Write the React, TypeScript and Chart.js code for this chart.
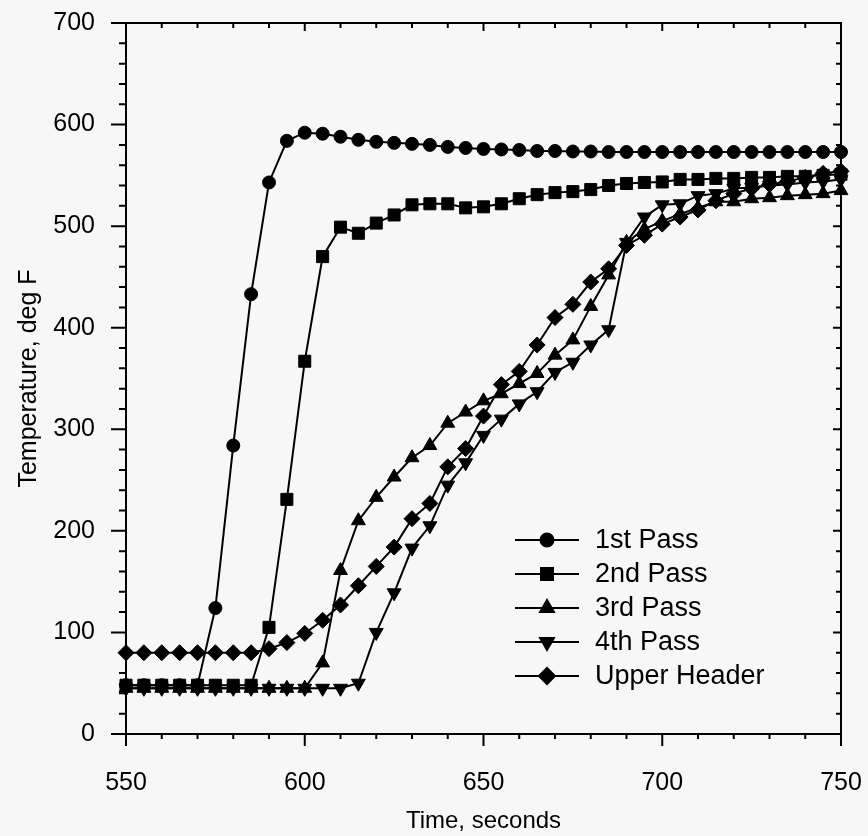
import React, { useEffect, useRef } from 'react';
import { Chart, registerables } from 'chart.js';
import { drawPoint } from 'chart.js/helpers';

Chart.register(...registerables);

const times = [
  550, 555, 560, 565, 570, 575, 580, 585, 590, 595,
  600, 605, 610, 615, 620, 625, 630, 635, 640, 645,
  650, 655, 660, 665, 670, 675, 680, 685, 690, 695,
  700, 705, 710, 715, 720, 725, 730, 735, 740, 745, 750,
];

const pass1 = [
  48, 48, 48, 48, 48, 124, 284, 433, 543, 584,
  592, 591, 588, 585, 583, 582, 581, 580, 578, 577,
  576, 575.5, 575, 574, 574, 573.5, 573.5, 573, 573, 573,
  573, 573, 573, 573, 573, 573, 573, 573, 573, 573, 573,
];

const pass2 = [
  48, 48, 48, 48, 48, 48, 48, 48, 105, 231,
  367, 470, 499, 493, 503, 511, 521, 522, 522, 518,
  519, 522, 527, 531, 533, 534, 536, 540, 542, 543,
  543.5, 546, 546, 547, 547, 548, 548, 549, 549, 550, 551,
];

const pass3 = [
  45, 45, 45, 45, 45, 45, 45, 45, 45, 45,
  45, 70, 161, 210, 233, 253, 272, 284, 306, 317,
  328, 335, 345, 355, 373, 388, 421, 452, 484, 497,
  505, 512, 518, 524, 524, 527, 528, 530, 531, 532, 535,
];

const pass4 = [
  45, 45, 45, 45, 45, 45, 45, 45, 45, 45,
  45, 45, 45, 50, 100, 139, 183, 205, 245, 267,
  294, 310, 325, 337, 356, 366, 383, 398, 484, 509,
  521, 522, 530, 532, 537, 538, 540, 541, 543, 544, 546,
];

const upperHeader = [
  80, 80, 80, 80, 80, 80, 80, 80, 84, 90,
  99, 112, 127, 146, 165, 184, 212, 227, 263, 281,
  313, 344, 357, 383, 410, 423, 445, 458, 481, 491,
  502, 509, 516, 525, 532, 537, 541, 544, 548, 552, 554,
];

const seriesNames = ['1st Pass', '2nd Pass', '3rd Pass', '4th Pass', 'Upper Header'];
const seriesValues = [pass1, pass2, pass3, pass4, upperHeader];

const xTickLabels = [550, 600, 650, 700, 750];
const yTickLabels = [0, 100, 200, 300, 400, 500, 600, 700];

const FONT = "'Liberation Sans', Arial, Helvetica, sans-serif";

const markerStyles = [
  { pointStyle: 'circle', pointRadius: 6.5, rotation: 0 },
  { pointStyle: 'rect', pointRadius: 8.5, rotation: 0 },
  { pointStyle: 'triangle', pointRadius: 8, rotation: 0 },
  { pointStyle: 'triangle', pointRadius: 8, rotation: 180 },
  { pointStyle: 'rectRot', pointRadius: 8, rotation: 0 },
];

const backgroundPlugin = {
  id: 'bgFill',
  beforeDraw(chart: any) {
    const { ctx, width, height } = chart;
    ctx.save();
    ctx.fillStyle = '#f7f7f7';
    ctx.fillRect(0, 0, width, height);
    ctx.restore();
  },
};

const frameTicksPlugin = {
  id: 'frameTicks',
  afterDraw(chart: any) {
    const { ctx, chartArea } = chart;
    const { left, right, top, bottom } = chartArea;
    const xs = chart.scales.x;
    const ys = chart.scales.y;
    ctx.save();
    ctx.strokeStyle = '#000';
    ctx.lineWidth = 2;
    ctx.strokeRect(left, top, right - left, bottom - top);
    ctx.beginPath();
    for (let v = xs.min; v <= xs.max; v += 10) {
      const px = xs.getPixelForValue(v);
      const major = v % 50 === 0;
      ctx.moveTo(px, bottom);
      ctx.lineTo(px, bottom + (major ? 12 : 5));
      ctx.moveTo(px, top);
      ctx.lineTo(px, top + (major ? 8 : 5));
    }
    for (let v = ys.min; v <= ys.max; v += 20) {
      const py = ys.getPixelForValue(v);
      const major = v % 100 === 0;
      ctx.moveTo(left, py);
      ctx.lineTo(left - (major ? 15 : 7), py);
      ctx.moveTo(right, py);
      ctx.lineTo(right - (major ? 8 : 5), py);
    }
    ctx.stroke();
    ctx.restore();
  },
};

const legendPlugin = {
  id: 'lineLegend',
  afterDraw(chart: any, _args: any, opts: any) {
    const { ctx } = chart;
    ctx.save();
    chart.data.datasets.forEach((ds: any, i: number) => {
      const y = opts.y0 + i * opts.rowGap;
      ctx.strokeStyle = '#000';
      ctx.lineWidth = 2;
      ctx.beginPath();
      ctx.moveTo(opts.lineX0, y);
      ctx.lineTo(opts.lineX1, y);
      ctx.stroke();
      ctx.fillStyle = '#000';
      drawPoint(ctx, {
        pointStyle: ds.pointStyle,
        radius: ds.pointRadius,
        rotation: ds.pointRotation || 0,
        borderWidth: 1,
      }, (opts.lineX0 + opts.lineX1) / 2, y);
      ctx.fillStyle = '#000';
      ctx.font = `${opts.fontSize}px ${FONT}`;
      ctx.textAlign = 'left';
      ctx.textBaseline = 'middle';
      ctx.fillText(ds.label, opts.textX, y + 1);
    });
    ctx.restore();
  },
};

export default function App() {
  const canvasRef = useRef<HTMLCanvasElement | null>(null);

  useEffect(() => {
    const canvas = canvasRef.current;
    if (!canvas) return;

    const datasets = seriesNames.map((name, i) => ({
      label: name,
      data: times.map((t, j) => ({ x: t, y: seriesValues[i][j] })),
      borderColor: '#000',
      backgroundColor: '#000',
      borderWidth: 2,
      pointStyle: markerStyles[i].pointStyle,
      pointRadius: markerStyles[i].pointRadius,
      pointRotation: markerStyles[i].rotation,
      pointBackgroundColor: '#000',
      pointBorderColor: '#000',
      pointBorderWidth: 1,
      tension: 0,
      fill: false,
      clip: false,
    }));

    const chart = new Chart(canvas, {
      type: 'line',
      data: { datasets },
      options: {
        responsive: false,
        animation: false,
        events: [],
        layout: { padding: { left: 0, right: 27, top: 23, bottom: 0 } },
        plugins: {
          legend: { display: false },
          tooltip: { enabled: false },
          lineLegend: {
            lineX0: 515,
            lineX1: 579,
            textX: 595,
            y0: 540,
            rowGap: 34,
            fontSize: 27,
          },
        } as any,
        scales: {
          x: {
            type: 'linear',
            min: 550,
            max: 750,
            afterFit: (s: any) => {
              s.height = 102;
              s.paddingLeft = 0;
              s.paddingRight = 0;
            },
            afterBuildTicks: (s: any) => { s.ticks = xTickLabels.map((v) => ({ value: v })); },
            grid: { display: false, drawTicks: false },
            border: { display: false },
            ticks: {
              color: '#000',
              font: { family: FONT, size: 25 },
              padding: 34,
              maxRotation: 0,
            },
            title: {
              display: true,
              text: 'Time, seconds',
              color: '#000',
              font: { family: FONT, size: 24 },
              padding: { top: 0, bottom: 0 },
            },
          },
          y: {
            type: 'linear',
            min: 0,
            max: 700,
            afterFit: (s: any) => {
              s.width = 126;
              s.paddingTop = 0;
              s.paddingBottom = 0;
            },
            afterBuildTicks: (s: any) => { s.ticks = yTickLabels.map((v) => ({ value: v })); },
            grid: { display: false, drawTicks: false },
            border: { display: false },
            ticks: {
              color: '#000',
              font: { family: FONT, size: 25 },
              padding: 31,
            },
            title: {
              display: true,
              text: 'Temperature, deg F',
              color: '#000',
              font: { family: FONT, size: 25 },
              padding: { top: 14, bottom: 0 },
            },
          },
        },
      },
      plugins: [backgroundPlugin, frameTicksPlugin, legendPlugin],
    });

    return () => chart.destroy();
  }, []);

  return (
    <div style={{ position: 'absolute', left: 0, top: 0, width: 868, height: 836, background: '#f7f7f7' }}>
      <canvas ref={canvasRef} width={868} height={836} style={{ display: 'block', width: 868, height: 836 }} />
    </div>
  );
}
